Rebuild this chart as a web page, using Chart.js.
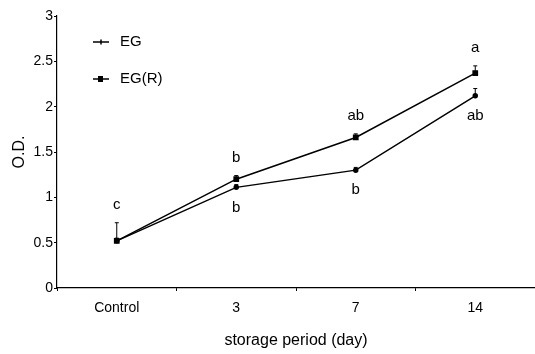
<!DOCTYPE html>
<html>
<head>
<meta charset="utf-8">
<script src="https://cdn.jsdelivr.net/npm/chart.js@4"></script>
<style>
  html, body { margin: 0; padding: 0; background: #fff; }
  #wrap { width: 535px; height: 354px; }
</style>
</head>
<body>
<div id="wrap"><canvas id="odChart" width="535" height="354"></canvas></div>
<script>
var categories = ["Control", "3", "7", "14"];
var egValues = [0.52, 1.11, 1.30, 2.12];
var egErr = [0.20, 0.03, 0.03, 0.08];
var egrValues = [0.52, 1.20, 1.66, 2.37];
var egrErr = [0.03, 0.04, 0.04, 0.08];
var egLetters = ["", "b", "b", "ab"];
var egrLetters = ["c", "b", "ab", "a"];
var yTicks = [0, 0.5, 1, 1.5, 2, 2.5, 3];

var FONT = "'Liberation Sans', Arial, sans-serif";

// stretch the x axis to the right edge of the canvas, like the original
var stretchX = {
  id: "stretchX",
  afterLayout: function (chart) {
    var xs = chart.scales.x;
    xs.right = chart.width;
    xs.width = xs.right - xs.left;
    xs.configure();
    chart.chartArea.right = chart.width;
    chart.chartArea.width = chart.width - chart.chartArea.left;
  }
};

// error bars (upper whisker only) + significance letters + legend
var annotate = {
  id: "annotate",
  afterDatasetsDraw: function (chart) {
    var ctx = chart.ctx;
    var xs = chart.scales.x, ys = chart.scales.y;
    ctx.save();
    ctx.strokeStyle = "#000";
    ctx.lineWidth = 1;
    function bar(vals, errs) {
      for (var i = 0; i < vals.length; i++) {
        var x = xs.getPixelForValue(i);
        var yt = ys.getPixelForValue(vals[i] + errs[i]);
        var y0 = ys.getPixelForValue(vals[i]);
        ctx.beginPath();
        ctx.moveTo(x, yt); ctx.lineTo(x, y0);
        ctx.moveTo(x - 2, yt); ctx.lineTo(x + 2, yt);
        ctx.stroke();
      }
    }
    bar(egValues, egErr);
    bar(egrValues, egrErr);

    ctx.fillStyle = "#000";
    ctx.font = "15px " + FONT;
    ctx.textAlign = "center";
    ctx.textBaseline = "middle";
    for (var i = 0; i < categories.length; i++) {
      var x = xs.getPixelForValue(i);
      if (egrLetters[i]) {
        var top = i === 0 ? egValues[i] + egErr[i] : egrValues[i] + egrErr[i];
        ctx.fillText(egrLetters[i], x, ys.getPixelForValue(top) - 18);
      }
      if (egLetters[i]) {
        ctx.fillText(egLetters[i], x, ys.getPixelForValue(egValues[i]) + 20);
      }
    }

    // legend
    var lx = 93, ly1 = 42, ly2 = 79;
    ctx.lineWidth = 1.5;
    ctx.beginPath(); ctx.moveTo(lx, ly1); ctx.lineTo(lx + 16, ly1); ctx.stroke();
    ctx.beginPath(); ctx.moveTo(lx + 8, ly1 - 2.5); ctx.lineTo(lx + 8, ly1 + 2.5); ctx.stroke();
    ctx.beginPath(); ctx.moveTo(lx, ly2); ctx.lineTo(lx + 16, ly2); ctx.stroke();
    ctx.fillRect(lx + 5, ly2 - 3, 5, 6);
    ctx.textAlign = "left";
    ctx.font = "15px " + FONT;
    ctx.fillText("EG", lx + 27, ly1);
    ctx.fillText("EG(R)", lx + 27, ly2);
    ctx.restore();
  }
};

new Chart(document.getElementById("odChart"), {
  type: "line",
  data: {
    labels: categories,
    datasets: [
      {
        label: "EG",
        data: egValues,
        borderColor: "#000",
        backgroundColor: "#000",
        borderWidth: 1.5,
        pointStyle: "circle",
        pointRadius: 2,
        tension: 0
      },
      {
        label: "EG(R)",
        data: egrValues,
        borderColor: "#000",
        backgroundColor: "#000",
        borderWidth: 1.5,
        pointStyle: "rect",
        pointRadius: 3,
        tension: 0
      }
    ]
  },
  options: {
    responsive: false,
    animation: false,
    layout: { padding: { top: 16, right: 0, left: 0, bottom: 0 } },
    plugins: { legend: { display: false }, tooltip: { enabled: false } },
    scales: {
      x: {
        offset: true,
        afterFit: function (s) { s.height = 66; },
        grid: { display: true, drawOnChartArea: false, offset: true, tickLength: 3, color: "#000" },
        border: { display: true, color: "#000", width: 1.2 },
        ticks: { color: "#000", font: { family: FONT, size: 14 }, padding: 9 },
        title: { display: true, text: "storage period (day)", color: "#000", font: { family: FONT, size: 16 }, padding: { top: 7 } }
      },
      y: {
        min: 0,
        max: 3,
        afterFit: function (s) { s.width = 57; },
        afterBuildTicks: function (s) { s.ticks = yTicks.map(function (v) { return { value: v }; }); },
        grid: { display: true, drawOnChartArea: false, tickLength: 3, color: "#000" },
        border: { display: true, color: "#000", width: 1.2 },
        ticks: { color: "#000", font: { family: FONT, size: 14 }, padding: 1, callback: function (v) { return String(v); } },
        title: { display: true, text: "O.D.", color: "#000", font: { family: FONT, size: 16 }, padding: { top: 10, bottom: 0 } }
      }
    }
  },
  plugins: [stretchX, annotate]
});
</script>
</body>
</html>
